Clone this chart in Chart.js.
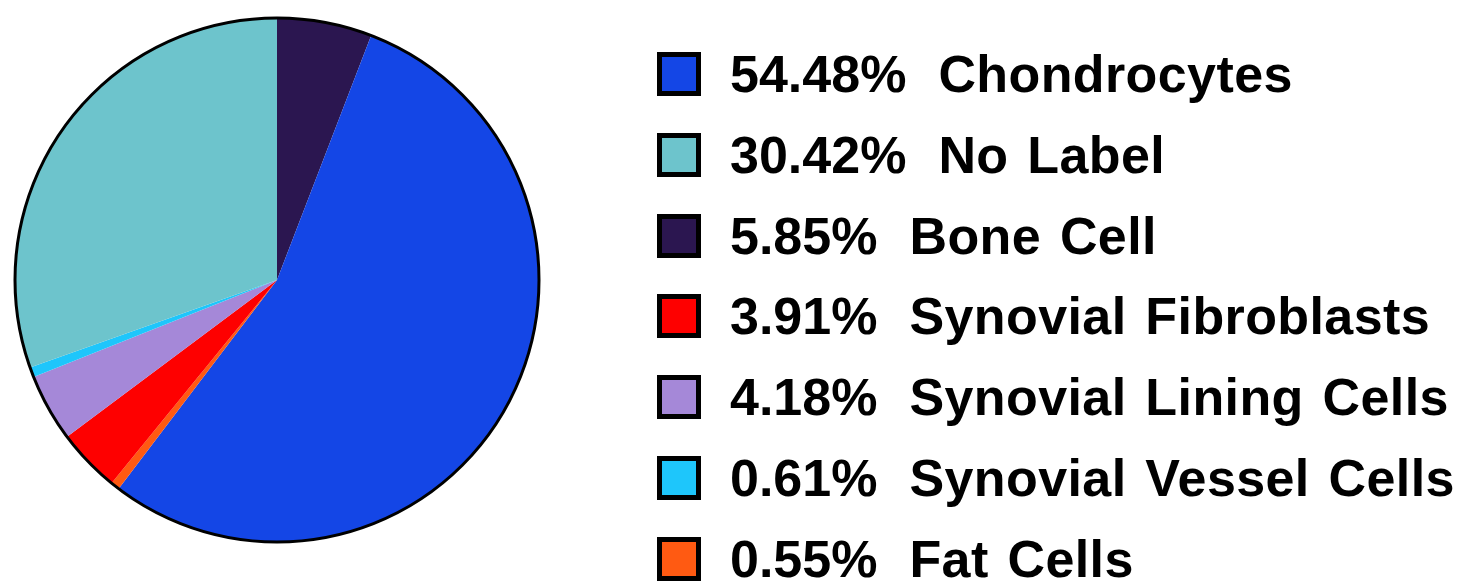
<!DOCTYPE html>
<html>
<head>
<meta charset="utf-8">
<script src="https://cdn.jsdelivr.net/npm/chart.js@4.4.1/dist/chart.umd.min.js"></script>
<style>
  html, body { margin: 0; padding: 0; background: #fff; }
  body { width: 1471px; height: 583px; position: relative; overflow: hidden; font-family: "Liberation Sans", Arial, sans-serif; }
  #pie-wrap { position: absolute; left: 13px; top: 15px; width: 528px; height: 530px; }
  #legend { position: absolute; left: 657px; top: 52px; }
  .row { display: flex; align-items: center; height: 44px; margin-bottom: 36.8px; white-space: nowrap; }
  .box { width: 34px; height: 34px; border: 5px solid #000; flex: none; }
  .pct { font-weight: bold; font-size: 52px; color: #000; margin-left: 29px; }
  .name { font-weight: bold; font-size: 52px; color: #000; margin-left: 32px; letter-spacing: 0.4px; word-spacing: 4px; }
</style>
</head>
<body>
<div id="pie-wrap"><canvas id="pie"></canvas></div>
<div id="legend"></div>
<script>
// slices, clockwise from 12 o'clock
const labels = ["Bone Cell", "Chondrocytes", "Fat Cells", "Synovial Fibroblasts", "Synovial Lining Cells", "Synovial Vessel Cells", "No Label"];
const percents = [5.85, 54.48, 0.55, 3.91, 4.18, 0.61, 30.42];
const colors = ["#2b1650", "#1446e6", "#ff5a12", "#fe0000", "#a588d8", "#1ec6fb", "#6dc4cc"];
// legend order (as printed on the right)
const legendOrder = ["Chondrocytes", "No Label", "Bone Cell", "Synovial Fibroblasts", "Synovial Lining Cells", "Synovial Vessel Cells", "Fat Cells"];

// black rim around the whole pie
const rimPlugin = {
    id: 'rim',
    afterDatasetsDraw(chart) {
        const arc = chart.getDatasetMeta(0).data[0];
        if (!arc) return;
        const ctx = chart.ctx;
        ctx.save();
        ctx.beginPath();
        ctx.arc(arc.x, arc.y, arc.outerRadius, 0, Math.PI * 2);
        ctx.lineWidth = 3;
        ctx.strokeStyle = '#000';
        ctx.stroke();
        ctx.restore();
    }
};

new Chart(document.getElementById('pie'), {
    type: 'pie',
    data: {
        labels: labels,
        datasets: [{
            data: percents,
            backgroundColor: colors,
            borderWidth: 0
        }]
    },
    options: {
        responsive: true,
        maintainAspectRatio: false,
        animation: false,
        layout: { padding: 2 },
        plugins: { legend: { display: false }, tooltip: { enabled: false } }
    },
    plugins: [rimPlugin]
});

const legend = document.getElementById('legend');
legendOrder.forEach(name => {
    const i = labels.indexOf(name);
    const row = document.createElement('div');
    row.className = 'row';
    row.innerHTML = `<div class="box" style="background:${colors[i]}"></div><span class="pct">${percents[i].toFixed(2)}%</span><span class="name">${name}</span>`;
    legend.appendChild(row);
});
</script>
</body>
</html>
